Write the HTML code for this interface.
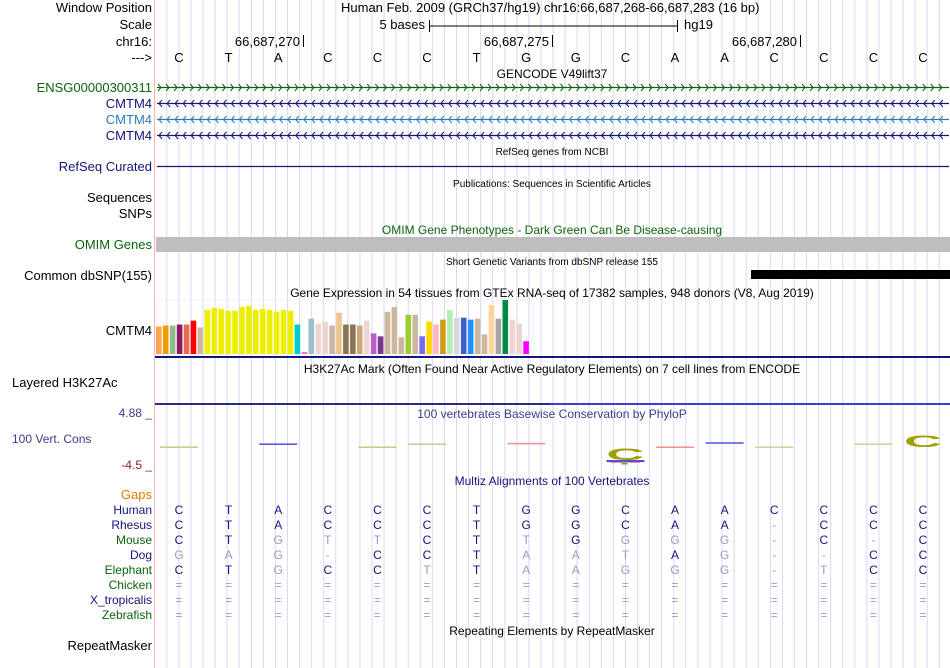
<!DOCTYPE html>
<html><head><meta charset="utf-8">
<style>
body{margin:0;background:#fff;}
#root{position:relative;width:950px;height:668px;overflow:hidden;background:#fff;font-family:"Liberation Sans",Arial,sans-serif;}
svg text{font-family:"Liberation Sans",Arial,sans-serif;}
</style></head>
<body>
<div id="root">
<svg id="s" width="950" height="668" xmlns="http://www.w3.org/2000/svg"></svg>
</div>
<script>
// ---- data ----
const bases = ["C","T","A","C","C","C","T","G","G","C","A","A","C","C","C","C"];
const speciesNames = ["Human","Rhesus","Mouse","Dog","Elephant","Chicken","X_tropicalis","Zebrafish"];
const speciesColors = ["#14147a","#14147a","#0a640a","#14147a","#0a640a","#0a640a","#14147a","#0a640a"];
const alnHuman    = ["C","T","A","C","C","C","T","G","G","C","A","A","C","C","C","C"];
const alnRhesus   = ["C","T","A","C","C","C","T","G","G","C","A","A","-","C","C","C"];
const alnMouse    = ["C","T","G","T","T","C","T","T","G","G","G","G","-","C","-","C"];
const alnDog      = ["G","A","G","-","C","C","T","A","A","T","A","G","-","-","C","C"];
const alnElephant = ["C","T","G","C","C","T","T","A","A","G","G","G","-","T","C","C"];
const alnChicken  = Array(16).fill("=");
const alnXtrop    = Array(16).fill("=");
const alnZebra    = Array(16).fill("=");
const gtexValues = [28,29,29,30,30,34,27,45,47,46,44,44,48,49,45,46,45,43,45,44,30,2,36,31,33,29,42,30,30,29,34,21,18,43,48,17,40,40,18,33,30,35,45,37,37,35,36,20,50,36,55,35,31,13];
const gtexColors = ["#ffa54f","#ee9a00","#8fbc8f","#8b1c62","#ee6a50","#ff0000","#cdb79e","#eeee00","#eeee00","#eeee00","#eeee00","#eeee00","#eeee00","#eeee00","#eeee00","#eeee00","#eeee00","#eeee00","#eeee00","#eeee00","#00cdcd","#ff6ec7","#9ac0cd","#eed5d2","#eed5d2","#cdb79e","#eec591","#8b7355","#8b7355","#cdaa7d","#eed5d2","#b460c8","#7a378b","#cdb79e","#cdb79e","#cdb79e","#9acd32","#cdb79e","#7b68ee","#ffd700","#ffb6c1","#cd9b1d","#b4eeb4","#d9d9d9","#3a5fcd","#1e90ff","#cdb79e","#cdb79e","#ffd39b","#a6a6a6","#008b45","#eed5d2","#eed5d2","#ff00ff"];
const phyloValues = [0.3,0.8,0.3,0.8,0.9,-1.5,0.3,1.0,0.3,0.8,1.6];
const phyloBases  = [0,2,4,5,7,9,10,11,12,14,15];
const phyloColors = ["#c8c880","#5050e0","#c8c880","#c8c890","#f09090","#3030e0","#f09090","#5050e0","#d0d0a0","#d0d0a0","#a0a000"];

// ---- helpers ----
const S = document.getElementById('s');
const NS = "http://www.w3.org/2000/svg";
function el(tag, attrs, parent){const e=document.createElementNS(NS,tag);for(const k in attrs)e.setAttribute(k,attrs[k]);(parent||S).appendChild(e);return e;}
function txt(x,y,str,opt){opt=opt||{};const t=el('text',{x:x,y:y,'font-size':opt.size||13,fill:opt.fill||'#000','text-anchor':opt.anchor||'start'});t.textContent=str;return t;}
const baseX = i => 179 + i*49.6;

// grid
for(let x=166.8;x<950;x+=12.07){const l=el('line',{x1:x,y1:0,x2:x,y2:668,stroke:'#d9d9f5','stroke-width':1});

}
const sep=el('line',{x1:154.5,y1:0,x2:154.5,y2:668,stroke:'#ffb0b0','stroke-width':1});



// left labels
const labels=[["Window Position",12,"#000"],["Scale",29,"#000"],["chr16:",46,"#000"],["--->",62,"#000"],
["ENSG00000300311",92,"#0a640a"],["CMTM4",108,"#14147a"],["CMTM4",124,"#2a7ab8"],["CMTM4",140,"#14147a"],
["RefSeq Curated",171,"#14147a"],["Sequences",202,"#000"],["SNPs",218,"#000"],["OMIM Genes",249,"#0a640a"],
["Common dbSNP(155)",280,"#000"],["CMTM4",335,"#000"],["Gaps",499,"#e08000"]];
labels.forEach(l=>{const t=txt(152,l[1],l[0],{anchor:'end',fill:l[2]});

});
const lh=txt(12,387,"Layered H3K27Ac");


const vc=txt(12,443,"100 Vert. Cons",{fill:'#3c3c8c',size:12});


const ymax=txt(152,417,"4.88 _",{anchor:'end',fill:'#3c3c8c',size:12});


const ymin=txt(152,469,"-4.5 _",{anchor:'end',fill:'#8c2020',size:12});


const rm=txt(152,650,"RepeatMasker",{anchor:'end'});


speciesNames.forEach((n,i)=>{const t=txt(152,514+i*15,n,{anchor:'end',fill:speciesColors[i],size:12});

});

// header
const hdr=txt(341,12,"Human Feb. 2009 (GRCh37/hg19)   chr16:66,687,268-66,687,283 (16 bp)");
hdr.setAttribute('xml:space','preserve');


txt(425,29,"5 bases",{anchor:'end'});
el('line',{x1:429.5,y1:20,x2:429.5,y2:32,stroke:'#000'});
el('line',{x1:429.5,y1:26,x2:677.5,y2:26,stroke:'#000'});
el('line',{x1:677.5,y1:20,x2:677.5,y2:32,stroke:'#000'});
txt(684,29,"hg19");
[[303,"66,687,270"],[552,"66,687,275"],[800,"66,687,280"]].forEach(p=>{txt(p[0]-3,46,p[1],{anchor:'end'});el('line',{x1:p[0]+0.5,y1:35,x2:p[0]+0.5,y2:47,stroke:'#000'});});
bases.forEach((b,i)=>{const t=txt(baseX(i),62,b,{anchor:'middle'});

});

// section titles
[[552,78,"GENCODE V49lift37",12,"#000"],[552,155,"RefSeq genes from NCBI",10,"#000"],[552,187,"Publications: Sequences in Scientific Articles",10,"#000"],
[552,234,"OMIM Gene Phenotypes - Dark Green Can Be Disease-causing",12,"#0a640a"],[552,265,"Short Genetic Variants from dbSNP release 155",10,"#000"],
[552,297,"Gene Expression in 54 tissues from GTEx RNA-seq of 17382 samples, 948 donors (V8, Aug 2019)",12,"#000"],
[552,373,"H3K27Ac Mark (Often Found Near Active Regulatory Elements) on 7 cell lines from ENCODE",12,"#000"],
[552,418,"100 vertebrates Basewise Conservation by PhyloP",12,"#3c3c8c"],[552,485,"Multiz Alignments of 100 Vertebrates",12,"#14147a"],
[552,635,"Repeating Elements by RepeatMasker",12,"#000"]].forEach(t=>{const e=txt(t[0],t[1],t[2],{anchor:'middle',size:t[3],fill:t[4]});

});

// gene tracks
function geneLine(y,color,dir){
  el('line',{x1:157,y1:y+0.5,x2:949,y2:y+0.5,stroke:color,'stroke-width':1.3});
  for(let x=160;x<948;x+=8.05){
    const d = dir>0 ? `M${x-2},${y-3} L${x+1},${y+0.5} L${x-2},${y+4}` : `M${x+2},${y-3} L${x-1},${y+0.5} L${x+2},${y+4}`;
    el('path',{d:d,stroke:color,fill:'none','stroke-width':1});
  }
}
geneLine(87,'#0a640a',1);geneLine(103,'#14147a',-1);geneLine(119,'#2a7ab8',-1);geneLine(135,'#14147a',-1);
el('line',{x1:157,y1:166.5,x2:949,y2:166.5,stroke:'#14147a','stroke-width':1.3});
const om=el('rect',{x:156,y:237,width:794,height:15,fill:'#bebebe'});


const snp=el('rect',{x:751,y:270,width:199,height:9,fill:'#000'});



// GTEx chart
const gBase=354, gTop=300, gMax=55;
const gy = v => gBase - v/gMax*(gBase-gTop);
el('rect',{x:156,y:gTop,width:377,height:gBase-gTop+1,fill:'none',stroke:'#f0f0f8'});
gtexValues.forEach((v,i)=>{
  const x=156+i*6.93;
  const r=el('rect',{x:x,y:gy(v),width:5.6,height:gBase-gy(v),fill:gtexColors[i]});
  
  
});
el('rect',{x:155,y:356,width:795,height:2,fill:'#14147a'});
el('rect',{x:155,y:403,width:795,height:2,fill:'#2a2a80'});
el('rect',{x:550,y:403,width:400,height:2,fill:'#3a3ad0'});

// PhyloP
const pZero=449, pScale=6;
const py = v => pZero - v*pScale;
phyloValues.forEach((v,k)=>{
  const i=phyloBases[k], cx=baseX(i);
  if(Math.abs(v)>=1.5){
    const cy = v<0 ? 454 : 441;
    const t=txt(cx-19,cy+6,"C",{size:17,fill:'#a0a000'});
    t.setAttribute('textLength','38');
    t.setAttribute('lengthAdjust','spacingAndGlyphs');
    t.setAttribute('font-weight','bold');
    
    
    if(v<0){el('rect',{x:cx-19,y:460,width:38,height:2,fill:'#5050e0'});el('rect',{x:cx-15,y:462,width:30,height:1,fill:'#f09090'});el('rect',{x:cx-4,y:463,width:6,height:1.5,fill:'#20d020'});}
  } else {
    const r=el('rect',{x:cx-19,y:py(v)-0.75,width:38,height:1.5,fill:phyloColors[k]});
    
    
  }
});

// Multiz
const alns=[alnHuman,alnRhesus,alnMouse,alnDog,alnElephant,alnChicken,alnXtrop,alnZebra];
alns.forEach((row,r)=>{
  row.forEach((b,i)=>{
    const match = (b===alnHuman[i]);
    const col = (r===0||match&&b!=='=') ? '#14147a' : '#9a9ac8';
    const t=txt(baseX(i),514+r*15,b,{anchor:'middle',size:12,fill:col});
    
    
  });
});
</script>
</body></html>
